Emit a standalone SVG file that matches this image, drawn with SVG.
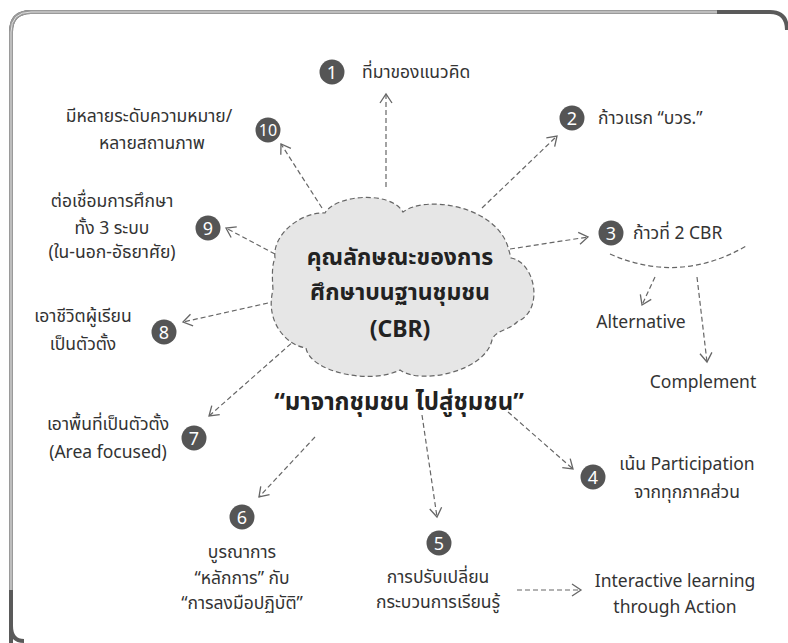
<svg xmlns="http://www.w3.org/2000/svg" width="788" height="643" viewBox="0 0 788 643">
<style>
.t{font-family:'Noto Sans','Noto Sans Thai','DejaVu Sans',sans-serif;font-size:17.5px;fill:#333}
.c{text-anchor:middle}
.b{font-weight:bold;font-size:23px;fill:#222}
.s{font-size:24px}
.n{font-family:'Noto Sans','DejaVu Sans',sans-serif;font-size:18px;fill:#fff;text-anchor:middle}
.badge{fill:#555}
.con{fill:none;stroke:#666;stroke-width:1.2;stroke-dasharray:5 3}
</style>
<defs>
<marker id="ah" markerUnits="userSpaceOnUse" markerWidth="20" markerHeight="20" refX="0" refY="0" viewBox="-12 -10 14 20" orient="auto">
<path d="M -9,-6 L 0,0 L -9,6" fill="none" stroke="#666" stroke-width="1.3"/>
</marker>
</defs>
<rect width="788" height="643" fill="#fff"/>
<g id="frame">
<path d="M 11,660 L 11,32 Q 11,12 31,12 L 770,12 Q 787,12 787,30" fill="none" stroke="#5a5a5a" stroke-width="4"/>
<path d="M 11,590 L 11,32 Q 11,12 31,12 L 717,12" fill="none" stroke="#9a9a9a" stroke-width="4"/>
<path d="M 11,590 L 11,32 Q 11,12 31,12 L 717,12" fill="none" stroke="#e0e0e0" stroke-width="1"/>
<path d="M 11,600 L 11,626 Q 11,641 24,641" fill="none" stroke="#5a5a5a" stroke-width="4"/>
</g>
<g id="connectors">
<line class="con" x1="386" y1="187" x2="386" y2="94" marker-end="url(#ah)"/>
<line class="con" x1="322" y1="208" x2="281" y2="144" marker-end="url(#ah)"/>
<line class="con" x1="482" y1="208" x2="557" y2="136" marker-end="url(#ah)"/>
<line class="con" x1="510" y1="249" x2="588" y2="237" marker-end="url(#ah)"/>
<line class="con" x1="275" y1="254" x2="226" y2="228" marker-end="url(#ah)"/>
<line class="con" x1="268" y1="303" x2="183" y2="322" marker-end="url(#ah)"/>
<line class="con" x1="303" y1="333" x2="209" y2="416" marker-end="url(#ah)"/>
<line class="con" x1="315" y1="437" x2="259" y2="497" marker-end="url(#ah)"/>
<line class="con" x1="422" y1="415" x2="437" y2="517" marker-end="url(#ah)"/>
<line class="con" x1="508" y1="412" x2="573" y2="469" marker-end="url(#ah)"/>
<line class="con" x1="517" y1="590" x2="581" y2="590" marker-end="url(#ah)"/>
<path class="con" d="M 610,254 Q 680,285 748,245"/>
<line class="con" x1="655" y1="277" x2="642" y2="305" marker-end="url(#ah)"/>
<line class="con" x1="697" y1="277" x2="707" y2="362" marker-end="url(#ah)"/>
</g>
<g id="cbr">
<path d="M 275,258 C 272,235 300,212 325,213 C 335,195 390,190 403,212 C 425,195 495,205 508,247 L 511,258 C 535,262 545,310 517,322 C 510,330 495,330 492,340 C 485,372 420,385 400,370 C 370,385 310,372 306,348 C 285,345 265,320 273,290 C 272,275 272,265 275,258 Z" fill="#e6e6e6" stroke="#666" stroke-width="1.2" stroke-dasharray="5 3"/>
<text class="t c b" x="400" y="265">คุณลักษณะของการ</text>
<text class="t c b" x="400" y="300">ศึกษาบนฐานชุมชน</text>
<text class="t c b" x="400" y="337">(CBR)</text>
</g>
<g id="slogan">
<text class="t c b s" x="399" y="410">“มาจากชุมชน ไปสู่ชุมชน”</text>
</g>
<g id="n1">
<circle class="badge" cx="332" cy="72" r="12.5"/><text class="n" x="332" y="78.5">1</text>
<text class="t" x="362" y="78">ที่มาของแนวคิด</text>
</g>
<g id="n2">
<circle class="badge" cx="572" cy="118" r="12.5"/><text class="n" x="572" y="124.5">2</text>
<text class="t" x="598" y="124">ก้าวแรก “บวร.”</text>
</g>
<g id="n3">
<circle class="badge" cx="611" cy="233" r="12.5"/><text class="n" x="611" y="239.5">3</text>
<text class="t" x="633" y="239">ก้าวที่ 2 CBR</text>
<text class="t c" x="641" y="328">Alternative</text>
<text class="t c" x="703" y="388">Complement</text>
</g>
<g id="n4">
<circle class="badge" cx="593" cy="477" r="12.5"/><text class="n" x="593" y="483.5">4</text>
<text class="t c" x="687" y="470">เน้น Participation</text>
<text class="t c" x="687" y="498">จากทุกภาคส่วน</text>
</g>
<g id="n5">
<circle class="badge" cx="439" cy="543" r="12.5"/><text class="n" x="439" y="549.5">5</text>
<text class="t c" x="438" y="583">การปรับเปลี่ยน</text>
<text class="t c" x="438" y="608">กระบวนการเรียนรู้</text>
</g>
<g id="n5b">
<text class="t c" x="675" y="587">Interactive learning</text>
<text class="t c" x="675" y="613">through Action</text>
</g>
<g id="n6">
<circle class="badge" cx="242" cy="517" r="12.5"/><text class="n" x="242" y="523.5">6</text>
<text class="t c" x="242" y="558">บูรณาการ</text>
<text class="t c" x="242" y="584">“หลักการ” กับ</text>
<text class="t c" x="242" y="609">“การลงมือปฏิบัติ”</text>
</g>
<g id="n7">
<circle class="badge" cx="194" cy="438" r="12.5"/><text class="n" x="194" y="444.5">7</text>
<text class="t c" x="108" y="430">เอาพื้นที่เป็นตัวตั้ง</text>
<text class="t c" x="108" y="458">(Area focused)</text>
</g>
<g id="n8">
<circle class="badge" cx="164" cy="332" r="12.5"/><text class="n" x="164" y="338.5">8</text>
<text class="t c" x="83" y="322">เอาชีวิตผู้เรียน</text>
<text class="t c" x="83" y="350">เป็นตัวตั้ง</text>
</g>
<g id="n9">
<circle class="badge" cx="208" cy="228" r="12.5"/><text class="n" x="208" y="234.5">9</text>
<text class="t c" x="112" y="207">ต่อเชื่อมการศึกษา</text>
<text class="t c" x="112" y="234">ทั้ง 3 ระบบ</text>
<text class="t c" x="112" y="258">(ใน-นอก-อัธยาศัย)</text>
</g>
<g id="n10">
<circle class="badge" cx="268" cy="130" r="12.5"/><text class="n" x="268" y="136" style="font-size:16px">10</text>
<text class="t c" x="149" y="122">มีหลายระดับความหมาย/</text>
<text class="t c" x="152" y="149">หลายสถานภาพ</text>
</g>
</svg>
